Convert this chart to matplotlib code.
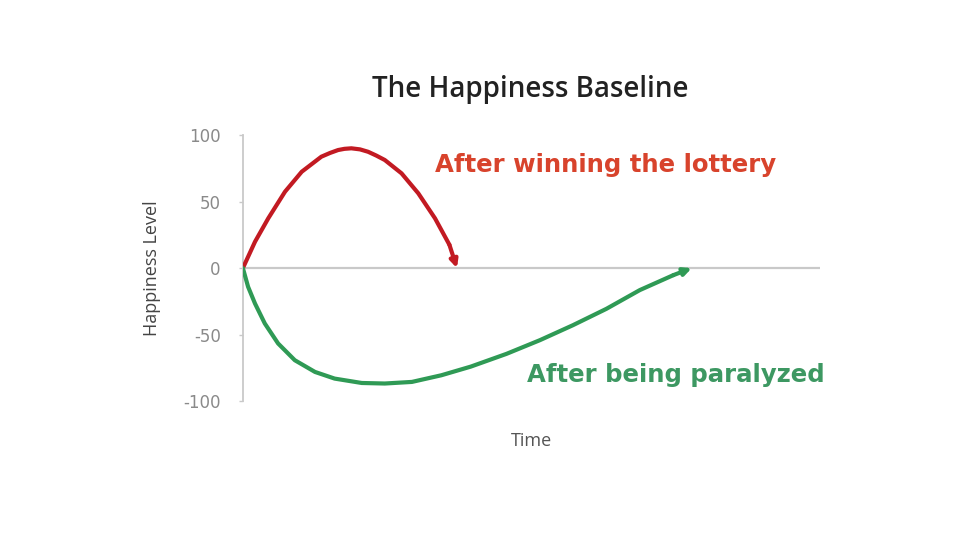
import matplotlib
matplotlib.use("Agg")
import matplotlib.pyplot as plt

# ── Data (time in arbitrary units 0–100) ────────────────────────────────────
lottery_t = [0, 2.1, 4.4, 7.3, 10.2, 13.6, 15.1, 16.5, 17.6, 18.8, 20.3,
             21.7, 23.1, 24.6, 27.5, 30.4, 33.3, 35.8, 37.1]
lottery_h = [0, 19.8, 37.4, 57.4, 72.4, 83.7, 86.5, 88.7, 89.6, 90.0, 89.2,
             87.4, 84.6, 81.2, 71.2, 56.2, 37.4, 17.5, 0]

paralyzed_t = [0, 0.9, 2.1, 3.8, 6.1, 9.0, 12.5, 15.9, 20.6, 24.6, 29.3,
               34.4, 39.5, 45.7, 51.5, 57.2, 63.0, 68.8, 74.6, 77.8]
paralyzed_h = [0, -14, -26.6, -41.6, -56.6, -69.2, -78, -83, -86.3, -86.7,
               -85.5, -80.5, -74, -64.4, -54.1, -42.9, -30.6, -16.5, -5.3, 0]

y_ticks = [100, 50, 0, -50, -100]

TITLE = "The Happiness Baseline"
RED_LABEL = "After winning the lottery"
GREEN_LABEL = "After being paralyzed"

RED_LINE, RED_TEXT = "#c21a22", "#d8432c"
GREEN_LINE, GREEN_TEXT = "#2f9a55", "#3d9862"
GREY = "#c9c9c9"

# ── Figure ──────────────────────────────────────────────────────────────────
fig = plt.figure(figsize=(9.6, 5.4), dpi=100, facecolor="white")
ax = fig.add_axes([0.253, 0.257, 0.601, 0.493])

ax.set_xlim(0, 100)
ax.set_ylim(-100, 100)

# zero baseline
ax.axhline(0, color=GREY, lw=1.6, zorder=1)


def draw_curve(t, h, colour):
    ax.plot(t[:-1], h[:-1], color=colour, lw=3.0, solid_capstyle="round",
            solid_joinstyle="round", zorder=3)
    ax.annotate("", xy=(t[-1], h[-1]), xytext=(t[-2], h[-2]),
                arrowprops=dict(arrowstyle="-|>,head_length=0.45,head_width=0.22",
                                color=colour, lw=3.0, shrinkA=0, shrinkB=0),
                zorder=4)


draw_curve(lottery_t, lottery_h, RED_LINE)
draw_curve(paralyzed_t, paralyzed_h, GREEN_LINE)

# axes styling
for side in ("top", "right", "bottom"):
    ax.spines[side].set_visible(False)
ax.spines["left"].set_color(GREY)
ax.spines["left"].set_linewidth(1.3)
ax.set_xticks([])
ax.set_yticks(y_ticks)
ax.set_yticklabels([str(v) for v in y_ticks])
ax.tick_params(axis="y", length=3, width=1, color=GREY, labelcolor="#8a8a8a",
               labelsize=12, pad=13)

ax.set_ylabel("Happiness Level", fontsize=13, color="#444444", labelpad=16,
              family="Open Sans")
ax.set_xlabel("Time", fontsize=13, color="#555555", labelpad=22,
              family="Open Sans")

fig.text(0.552, 0.835, TITLE, ha="center", va="center", fontsize=20,
         color="#222222", family="Open Sans", fontweight="semibold")

ax.text(0.333, 0.887, RED_LABEL, transform=ax.transAxes, ha="left",
        va="center", fontsize=17.6, fontweight="bold", color=RED_TEXT,
        family="DejaVu Sans")
ax.text(0.492, 0.098, GREEN_LABEL, transform=ax.transAxes, ha="left",
        va="center", fontsize=17.6, fontweight="bold", color=GREEN_TEXT,
        family="DejaVu Sans")

fig.savefig("out.png", dpi=100, facecolor="white")
